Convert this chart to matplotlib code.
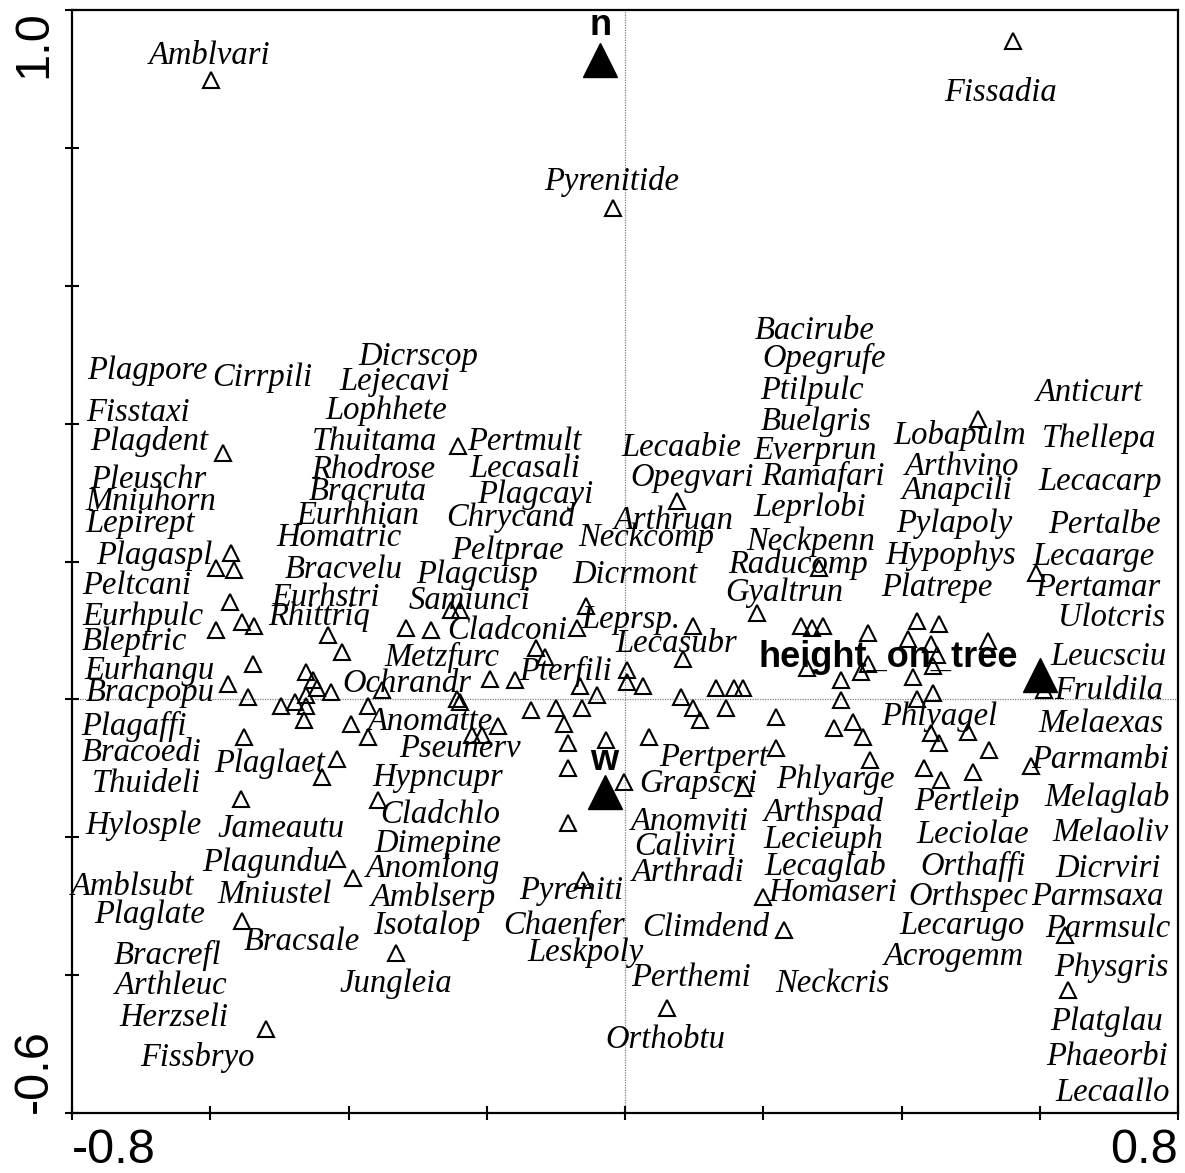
import matplotlib
matplotlib.use("Agg")
import matplotlib.pyplot as plt

# species scores (open triangles)
spec_x = [-0.599, -0.017, 0.562, -0.581, -0.570, -0.591, -0.565, -0.242, 0.075, 0.280,
          0.510, 0.594, -0.572, -0.591, -0.554, -0.536, -0.430, -0.409, -0.538, -0.574,
          -0.545, -0.461, -0.452, -0.446, -0.426, -0.461, -0.478, -0.497, -0.461, -0.465,
          -0.372, -0.396, -0.372, -0.351, -0.317, -0.280, -0.551, -0.417, -0.439, -0.555,
          -0.358, -0.416, -0.393, -0.554, -0.332, -0.519, -0.251, -0.239, -0.057, -0.070,
          -0.129, -0.116, -0.196, -0.159, 0.003, 0.003, 0.026, -0.065, -0.041, -0.243,
          -0.239, -0.136, -0.100, -0.062, -0.088, -0.184, -0.222, -0.207, -0.083, -0.028,
          -0.083, -0.001, -0.083, 0.035, 0.099, 0.084, 0.191, 0.254, 0.271, 0.264,
          0.081, 0.132, 0.157, 0.170, 0.099, 0.109, 0.146, 0.219, 0.219, 0.170,
          0.287, 0.351, 0.423, 0.454, 0.410, 0.443, 0.452, 0.525, 0.351, 0.341,
          0.312, 0.445, 0.417, 0.312, 0.423, 0.446, 0.606, 0.303, 0.330, 0.345,
          0.354, 0.442, 0.454, 0.496, 0.526, 0.432, 0.457, 0.503, 0.587, -0.061,
          0.199, 0.230, 0.061, 0.636, 0.641]
spec_y = [0.899, 0.713, 0.955, 0.358, 0.213, 0.190, 0.187, 0.368, 0.288, 0.190,
          0.407, 0.184, 0.141, 0.100, 0.112, 0.107, 0.093, 0.068, 0.052, 0.023,
          0.003, 0.039, 0.028, 0.017, 0.010, 0.006, -0.004, -0.010, -0.009, -0.030,
          -0.009, -0.035, -0.054, 0.014, 0.104, 0.100, -0.055, -0.087, -0.112, -0.145,
          -0.146, -0.232, -0.259, -0.322, -0.368, -0.478, 0.129, 0.129, 0.136, 0.104,
          0.075, 0.061, 0.030, 0.028, 0.042, 0.025, 0.020, 0.019, 0.007, 0.001,
          -0.004, -0.016, -0.013, -0.012, -0.035, -0.038, -0.052, -0.052, -0.064, -0.059,
          -0.100, -0.120, -0.180, -0.055, 0.107, 0.059, 0.125, 0.107, 0.104, 0.045,
          0.004, 0.016, 0.017, 0.017, -0.012, -0.030, -0.012, -0.025, -0.070, -0.128,
          0.107, 0.096, 0.114, 0.109, 0.088, 0.080, 0.064, 0.084, 0.052, 0.039,
          0.028, 0.049, 0.033, -0.001, 0.001, 0.009, 0.014, -0.042, -0.033, -0.055,
          -0.088, -0.049, -0.064, -0.048, -0.074, -0.100, -0.117, -0.106, -0.096, -0.262,
          -0.287, -0.335, -0.448, -0.342, -0.422]

# species labels
label_names = ["Amblvari", "Pyrenitide", "Fissadia",
               "Plagpore", "Cirrpili", "Fisstaxi", "Plagdent", "Pleuschr", "Mniuhorn", "Lepirept",
               "Plagaspl", "Peltcani", "Eurhpulc", "Bleptric", "Eurhangu", "Bracpopu", "Plagaffi",
               "Bracoedi", "Thuideli", "Hylosple", "Amblsubt", "Plaglate", "Bracrefl", "Arthleuc",
               "Herzseli", "Fissbryo",
               "Dicrscop", "Lejecavi", "Lophhete", "Thuitama", "Rhodrose", "Bracruta", "Eurhhian",
               "Homatric", "Bracvelu", "Eurhstri", "Rhittriq", "Ochrandr", "Anomatte", "Pseunerv",
               "Hypncupr", "Plaglaet", "Jameautu", "Cladchlo", "Dimepine", "Plagundu", "Anomlong",
               "Mniustel", "Amblserp", "Isotalop", "Bracsale", "Jungleia",
               "Pertmult", "Lecasali", "Plagcayi", "Chrycand", "Peltprae", "Plagcusp", "Samiunci",
               "Cladconi", "Metzfurc", "Pterfili", "Neckcomp", "Dicrmont", "Leprsp.", "Lecasubr",
               "Lecaabie", "Opegvari", "Arthruan", "Pertpert", "Grapscri", "Anomviti", "Caliviri",
               "Arthradi", "Pyreniti", "Chaenfer", "Leskpoly", "Climdend", "Perthemi", "Orthobtu",
               "Neckcris",
               "Bacirube", "Opegrufe", "Ptilpulc", "Buelgris", "Everprun", "Ramafari", "Leprlobi",
               "Neckpenn", "Raducomp", "Gyaltrun", "Phlyagel", "Phlyarge", "Arthspad", "Lecieuph",
               "Lecaglab", "Homaseri", "Lobapulm", "Arthvino", "Anapcili", "Pylapoly", "Hypophys",
               "Platrepe", "Pertleip", "Leciolae", "Orthaffi", "Orthspec", "Lecarugo", "Acrogemm",
               "Anticurt", "Thellepa", "Lecacarp", "Pertalbe", "Lecaarge", "Pertamar", "Ulotcris",
               "Leucsciu", "Fruldila", "Melaexas", "Parmambi", "Melaglab", "Melaoliv", "Dicrviri",
               "Parmsaxa", "Parmsulc", "Physgris", "Platglau", "Phaeorbi", "Lecaallo"]
label_x = [-0.601, -0.019, 0.543,
           -0.691, -0.525, -0.704, -0.688, -0.690, -0.686, -0.701,
           -0.681, -0.706, -0.697, -0.710, -0.688, -0.687, -0.710,
           -0.699, -0.693, -0.697, -0.712, -0.688, -0.662, -0.657,
           -0.652, -0.619,
           -0.299, -0.333, -0.346, -0.362, -0.364, -0.372, -0.387,
           -0.414, -0.407, -0.433, -0.442, -0.316, -0.281, -0.238,
           -0.271, -0.514, -0.497, -0.267, -0.271, -0.520, -0.278,
           -0.507, -0.277, -0.286, -0.468, -0.332,
           -0.145, -0.145, -0.130, -0.165, -0.170, -0.214, -0.225,
           -0.170, -0.265, -0.086, 0.030, 0.014, 0.009, 0.074,
           0.081, 0.097, 0.071, 0.128, 0.106, 0.093, 0.087,
           0.091, -0.078, -0.088, -0.057, 0.117, 0.096, 0.059,
           0.300,
           0.275, 0.288, 0.270, 0.277, 0.275, 0.287, 0.268,
           0.268, 0.251, 0.230, 0.455, 0.304, 0.287, 0.287,
           0.290, 0.301, 0.484, 0.488, 0.481, 0.477, 0.471,
           0.451, 0.494, 0.503, 0.503, 0.497, 0.488, 0.475,
           0.672, 0.686, 0.687, 0.694, 0.678, 0.684, 0.704,
           0.699, 0.700, 0.688, 0.688, 0.697, 0.703, 0.699,
           0.683, 0.699, 0.703, 0.696, 0.697, 0.706]
label_y = [0.933, 0.751, 0.880,
           0.477, 0.467, 0.416, 0.374, 0.319, 0.286, 0.255,
           0.209, 0.165, 0.120, 0.083, 0.041, 0.010, -0.039,
           -0.078, -0.122, -0.184, -0.272, -0.312, -0.371, -0.416,
           -0.462, -0.520,
           0.497, 0.461, 0.419, 0.374, 0.333, 0.301, 0.267,
           0.235, 0.188, 0.148, 0.120, 0.022, -0.033, -0.071,
           -0.114, -0.093, -0.188, -0.167, -0.209, -0.236, -0.246,
           -0.284, -0.287, -0.328, -0.351, -0.412,
           0.374, 0.335, 0.297, 0.264, 0.216, 0.181, 0.143,
           0.100, 0.061, 0.041, 0.235, 0.181, 0.116, 0.081,
           0.365, 0.322, 0.259, -0.084, -0.122, -0.177, -0.214,
           -0.251, -0.278, -0.328, -0.368, -0.332, -0.404, -0.494,
           -0.413,
           0.535, 0.494, 0.448, 0.403, 0.361, 0.323, 0.278,
           0.229, 0.196, 0.155, -0.025, -0.116, -0.164, -0.204,
           -0.242, -0.281, 0.383, 0.338, 0.303, 0.255, 0.209,
           0.162, -0.149, -0.196, -0.243, -0.287, -0.328, -0.374,
           0.445, 0.378, 0.316, 0.254, 0.207, 0.162, 0.119,
           0.062, 0.012, -0.036, -0.087, -0.142, -0.194, -0.245,
           -0.287, -0.333, -0.390, -0.467, -0.519, -0.571]

# environmental variables (filled triangles)
env_names = ["n", "w", "height_on_tree"]
env_x = [-0.036, -0.029, 0.601]
env_y = [0.928, -0.135, 0.036]
env_label_x = [-0.036, -0.030, 0.381]
env_label_y = [0.978, -0.088, 0.061]

x_ticks = [-0.8, -0.6, -0.4, -0.2, 0.0, 0.2, 0.4, 0.6, 0.8]
x_ticklabels = ["-0.8", "", "", "", "", "", "", "", "0.8"]
y_ticks = [-0.6, -0.4, -0.2, 0.0, 0.2, 0.4, 0.6, 0.8, 1.0]
y_ticklabels = ["-0.6", "", "", "", "", "", "", "", "1.0"]

fig = plt.figure(figsize=(11.85, 11.73), dpi=100)
ax = fig.add_axes([72 / 1185, 1 - 1113 / 1173, 1106 / 1185, 1103 / 1173])

ax.axhline(0, color="gray", lw=0.9, ls=(0, (1, 1)), zorder=1)
ax.axvline(0, color="gray", lw=0.9, ls=(0, (1, 1)), zorder=1)

ax.plot(spec_x, spec_y, ls="none", marker="^", ms=11.5, mfc="none",
        mec="black", mew=1.5, zorder=2)

for name, x, y in zip(label_names, label_x, label_y):
    ax.text(x, y, name, ha="center", va="center", fontsize=23.5,
            family="Liberation Serif", style="italic", color="black", zorder=3)

ax.plot(env_x, env_y, ls="none", marker="^", ms=24, color="black", zorder=4)
for name, x, y in zip(env_names, env_label_x, env_label_y):
    ax.text(x, y, name, ha="center", va="center", fontsize=26,
            family="Liberation Sans", weight="bold", color="black", zorder=5)

ax.set_xlim(-0.8, 0.8)
ax.set_ylim(-0.6, 1.0)
ax.set_xticks(x_ticks)
ax.set_xticklabels(x_ticklabels)
ax.set_yticks(y_ticks)
ax.set_yticklabels(y_ticklabels)
ax.tick_params(direction="inout", length=10, width=1.5, labelsize=35, pad=6)
ax.tick_params(axis="y", labelrotation=90)
for lbl in ax.get_xticklabels() + ax.get_yticklabels():
    lbl.set_family("Liberation Sans")
xl = ax.get_xticklabels()
xl[0].set_ha("left")
xl[-1].set_ha("right")
yl = ax.get_yticklabels()
yl[0].set_va("bottom")
yl[-1].set_va("top")
for s in ax.spines.values():
    s.set_linewidth(1.6)

fig.savefig("out.png", dpi=100)
